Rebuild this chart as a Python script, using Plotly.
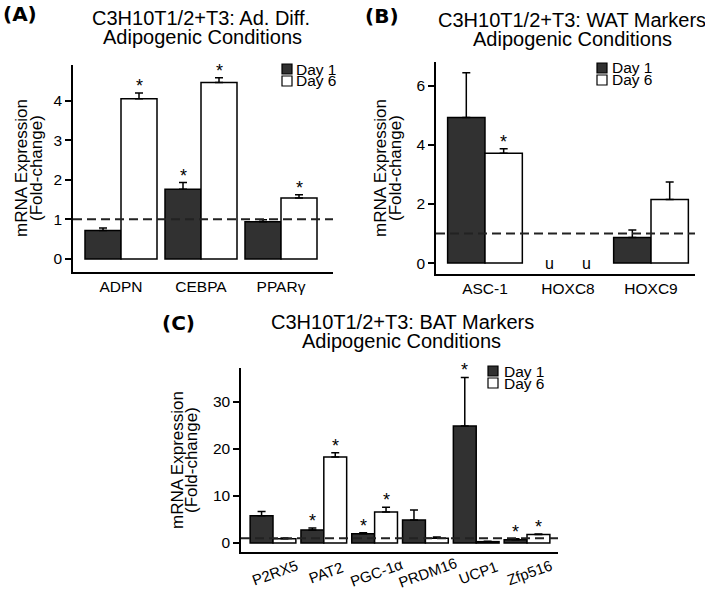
import plotly.graph_objects as go

# ---------------- data ----------------
a_cats = ["ADPN", "CEBPA", "PPARγ"]
a_day1 = [0.72, 1.76, 0.94]
a_day1_err = [0.06, 0.17, 0.05]
a_day6 = [4.05, 4.46, 1.54]
a_day6_err = [0.14, 0.12, 0.08]
a_sig1 = [False, True, False]
a_sig6 = [True, True, True]

b_cats = ["ASC-1", "HOXC8", "HOXC9"]
b_day1 = [4.93, None, 0.87]
b_day1_err = [1.52, None, 0.25]
b_day6 = [3.72, None, 2.15]
b_day6_err = [0.15, None, 0.60]
b_sig1 = [False, False, False]
b_sig6 = [True, False, False]
b_undetected = [False, True, False]

c_cats = ["P2RX5", "PAT2", "PGC-1α", "PRDM16", "UCP1", "Zfp516"]
c_day1 = [5.8, 2.8, 2.0, 4.9, 24.9, 0.7]
c_day1_err = [0.9, 0.4, 0.2, 2.1, 10.3, 0.2]
c_day6 = [0.9, 18.3, 6.6, 1.0, 0.3, 1.8]
c_day6_err = [0.2, 0.9, 1.0, 0.3, 0.1, 0.1]
c_sig1 = [False, True, True, False, True, True]
c_sig6 = [False, True, True, False, False, True]

a_yticks = [0, 1, 2, 3, 4]
b_yticks = [0, 2, 4, 6]
c_yticks = [0, 10, 20, 30]

series_names = ["Day 1", "Day 6"]
baseline = 1.0

# ---------------- styling ----------------
W, H = 705, 590
FONT = "Liberation Sans, Arial, sans-serif"
DARK = "#313131"


def px(x):
    return x / W


def py(y):
    return 1 - y / H


fig = go.Figure()

panels = [
    dict(ax="", cats=a_cats, d1=a_day1, e1=a_day1_err, d6=a_day6, e6=a_day6_err,
         s1=a_sig1, s6=a_sig6, und=None, ticks=a_yticks,
         xdom=(73, 333), ydom=(65, 272), xr=[-0.6, 2.65], yr=[-0.33, 4.9],
         label="(A)", labpos=(20, 14),
         title=["C3H10T1/2+T3: Ad. Diff.", "Adipogenic Conditions"],
         tpos=[(201, 18), (202, 37)], ytpos=[(22, 168), (37, 168)],
         leg=(282, 64, 294)),
    dict(ax="2", cats=b_cats, d1=b_day1, e1=b_day1_err, d6=b_day6, e6=b_day6_err,
         s1=b_sig1, s6=b_sig6, und=b_undetected, ticks=b_yticks,
         xdom=(436, 695), ydom=(62, 274), xr=[-0.59, 2.53], yr=[-0.37, 6.81],
         label="(B)", labpos=(382, 16),
         title=["C3H10T1/2+T3: WAT Markers", "Adipogenic Conditions"],
         tpos=[(572, 20), (572, 39)], ytpos=[(381, 168), (396, 168)],
         leg=(597, 63, 610)),
    dict(ax="3", cats=c_cats, d1=c_day1, e1=c_day1_err, d6=c_day6, e6=c_day6_err,
         s1=c_sig1, s6=c_sig6, und=None, ticks=c_yticks,
         xdom=(241, 558), ydom=(368, 552), xr=[-0.63, 5.61], yr=[-1.9, 37.2],
         label="(C)", labpos=(179, 323),
         title=["C3H10T1/2+T3: BAT Markers", "Adipogenic Conditions"],
         tpos=[(402, 322), (401, 341)], ytpos=[(177, 460), (191, 460)],
         leg=(488, 366, 502)),
]

annotations = []
shapes = []
layout_axes = {}
OFF = 0.225  # half of a bar width (bargap 0.1, two bars per group)

for p in panels:
    ax = p["ax"]
    xa, ya = "x" + ax, "y" + ax
    for name, vals, errs, color in [("Day 1", p["d1"], p["e1"], DARK),
                                    ("Day 6", p["d6"], p["e6"], "white")]:
        fig.add_trace(go.Bar(
            x=p["cats"], y=vals, name=name, xaxis=xa, yaxis=ya,
            marker=dict(color=color, line=dict(color="black", width=1.5)),
            error_y=dict(type="data", symmetric=False, array=errs,
                         arrayminus=[0] * len(vals), color="black",
                         thickness=1.5, width=4),
            showlegend=False, offsetgroup=name,
        ))
    # significance stars
    for sig, vals, errs, sgn in [(p["s1"], p["d1"], p["e1"], -1),
                                 (p["s6"], p["d6"], p["e6"], 1)]:
        for i, s in enumerate(sig):
            if s:
                annotations.append(dict(
                    x=i + sgn * OFF, y=vals[i] + errs[i], xref=xa, yref=ya,
                    text="*", showarrow=False, yanchor="bottom", yshift=-5,
                    font=dict(size=18, color="black", family=FONT)))
    # undetected markers
    if p["und"]:
        for i, u in enumerate(p["und"]):
            if u:
                for sgn in (-1, 1):
                    annotations.append(dict(
                        x=i + sgn * OFF, y=0, xref=xa, yref=ya, text="u",
                        showarrow=False, yanchor="middle",
                        font=dict(size=16, color="black", family=FONT)))
    # baseline dashed line
    shapes.append(dict(type="line", xref=xa + " domain", yref=ya,
                       x0=0, x1=1, y0=baseline, y1=baseline, layer="above",
                       line=dict(color="#222222", width=2, dash="9px,5px")))
    # axes
    xkey = "xaxis" + ax
    ykey = "yaxis" + ax
    layout_axes[xkey] = dict(
        domain=[px(p["xdom"][0]), px(p["xdom"][1])], anchor=ya,
        type="category", range=p["xr"], showline=True, linecolor="black",
        linewidth=1.5, ticks="", ticklen=0, showgrid=False, zeroline=False,
        tickfont=dict(size=15.5, color="black", family=FONT),
        showticklabels=(ax != "3"))
    layout_axes[ykey] = dict(
        domain=[py(p["ydom"][1]), py(p["ydom"][0])], anchor=xa,
        range=p["yr"], showline=True, linecolor="black", linewidth=1.5,
        ticks="outside", ticklen=6, tickwidth=1.5, tickcolor="black",
        tickvals=p["ticks"], showgrid=False, zeroline=False,
        tickfont=dict(size=15.5, color="black", family=FONT))
    # panel label
    annotations.append(dict(
        x=px(p["labpos"][0]), y=py(p["labpos"][1]), xref="paper", yref="paper",
        text="<b>" + p["label"] + "</b>", showarrow=False,
        xanchor="center", yanchor="middle",
        font=dict(size=20, color="black", family="DejaVu Sans")))
    # titles
    for t, (tx, ty) in zip(p["title"], p["tpos"]):
        annotations.append(dict(
            x=px(tx), y=py(ty), xref="paper", yref="paper", text=t,
            showarrow=False, xanchor="center", yanchor="middle",
            font=dict(size=20, color="black", family=FONT)))
    # y-axis titles
    for t, (tx, ty) in zip(["mRNA Expression", "(Fold-change)"], p["ytpos"]):
        annotations.append(dict(
            x=px(tx), y=py(ty), xref="paper", yref="paper", text=t,
            showarrow=False, xanchor="center", yanchor="middle", textangle=-90,
            font=dict(size=17, color="black", family=FONT)))
    # legend (manual, compact)
    lx, ly, tx = p["leg"]
    for k, (name, color) in enumerate(zip(series_names, [DARK, "white"])):
        y0 = ly + k * 12
        shapes.append(dict(type="rect", xref="paper", yref="paper",
                           x0=px(lx), x1=px(lx + 10), y0=py(y0 + 10), y1=py(y0),
                           fillcolor=color, line=dict(color="black", width=1.2)))
        annotations.append(dict(
            x=px(tx), y=py(y0 + 5), xref="paper", yref="paper", text=name,
            showarrow=False, xanchor="left", yanchor="middle",
            font=dict(size=15.5, color="black", family=FONT)))

# rotated category labels for panel C
for i, c in enumerate(c_cats):
    annotations.append(dict(
        x=i, y=py(572), xref="x3", yref="paper", text=c, showarrow=False,
        textangle=-20, xanchor="center", yanchor="middle", xshift=2,
        font=dict(size=15, color="black", family=FONT)))

fig.update_layout(
    width=W, height=H, margin=dict(l=0, r=0, t=0, b=0),
    paper_bgcolor="white", plot_bgcolor="white",
    barmode="group", bargap=0.1, bargroupgap=0,
    showlegend=False, font=dict(family=FONT, color="black"),
    annotations=annotations, shapes=shapes, **layout_axes)

fig.write_html(
    "out.html",
    config={"displayModeBar": False},
    post_script="document.body.style.margin='0px';"
                "document.body.style.overflow='hidden';")
